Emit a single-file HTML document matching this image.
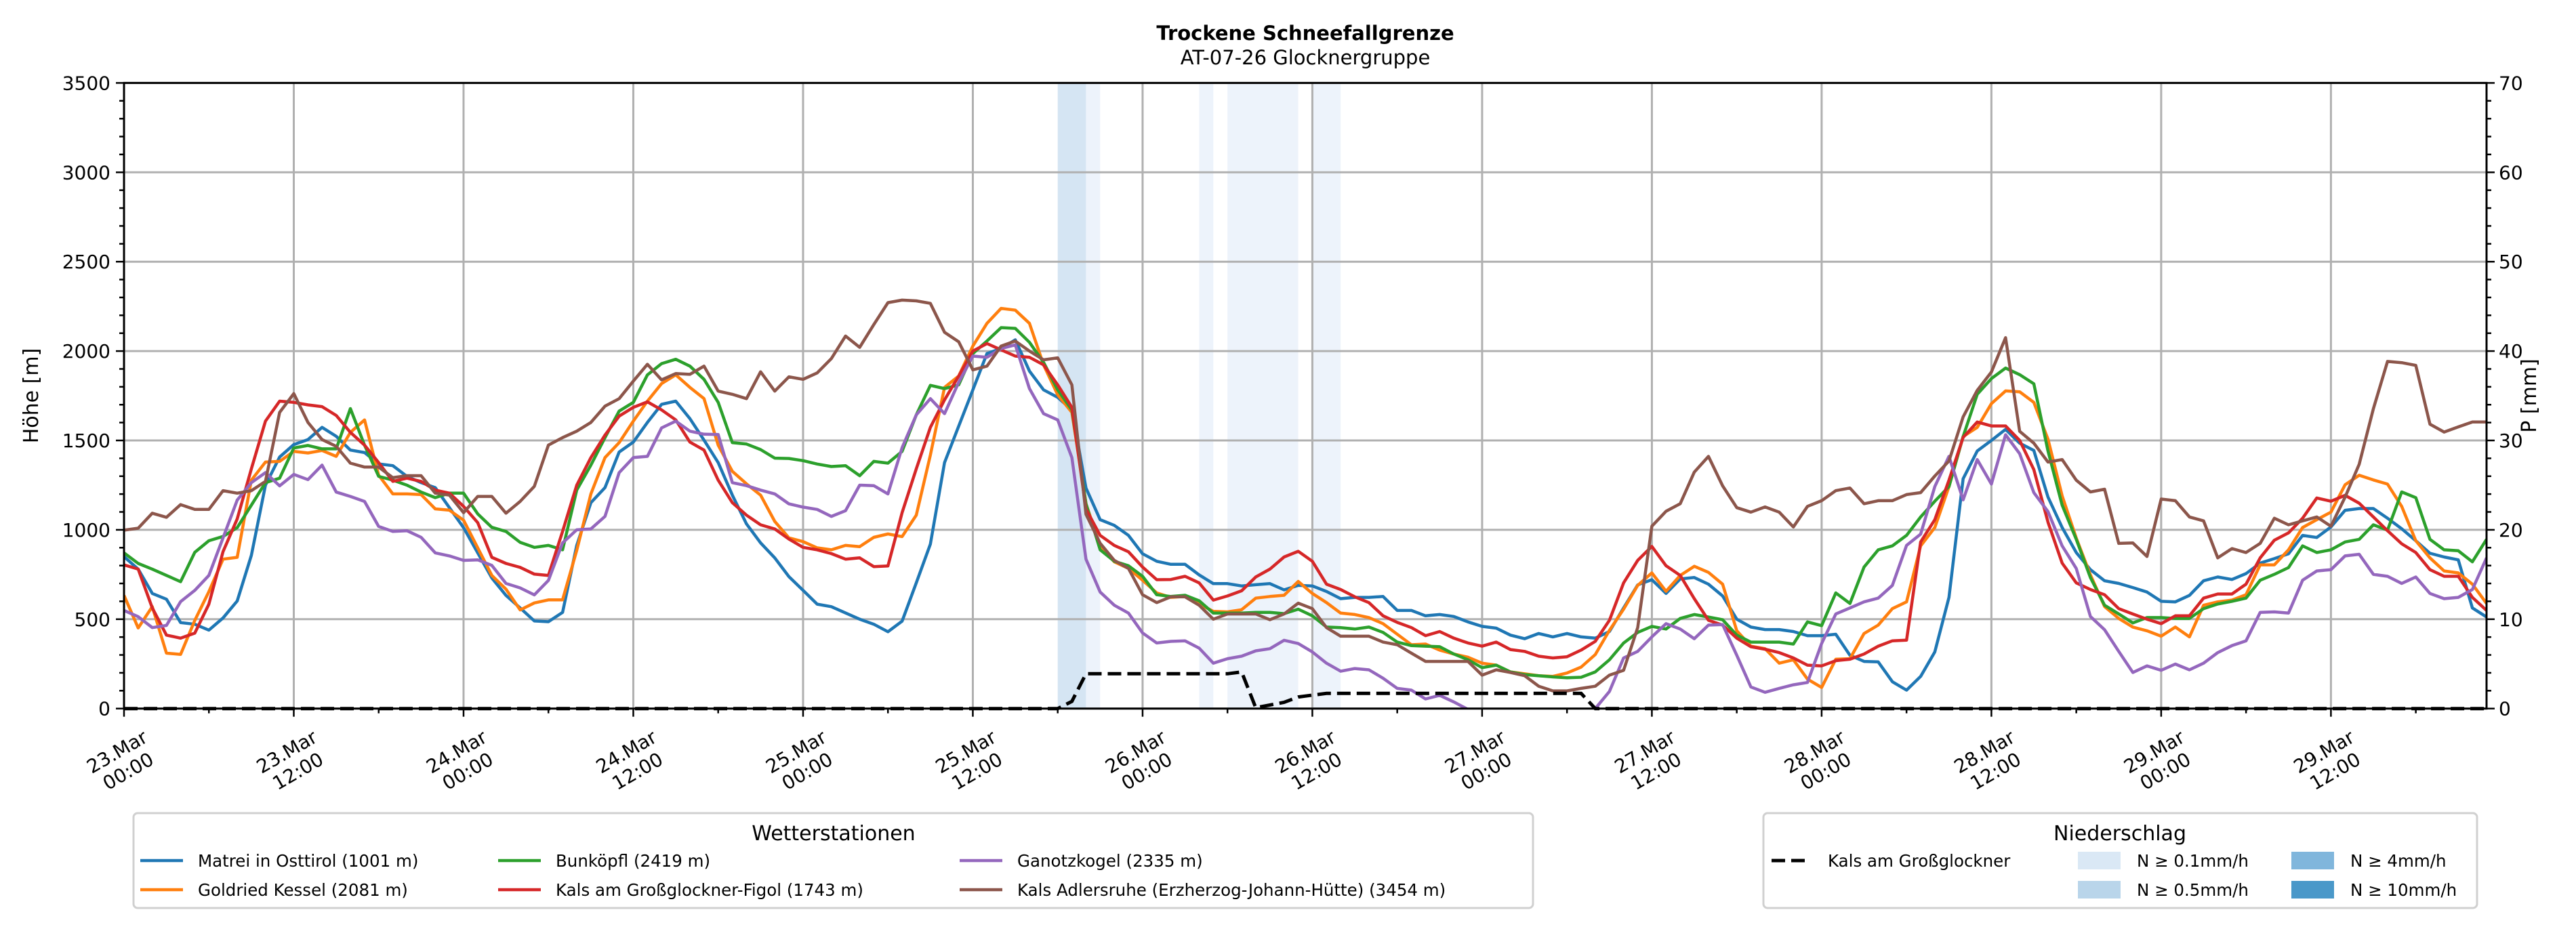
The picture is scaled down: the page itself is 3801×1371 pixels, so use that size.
<!DOCTYPE html>
<html><head><meta charset="utf-8"><style>
html,body{margin:0;padding:0;background:#fff;}
svg{display:block;font-family:"DejaVu Sans","Liberation Sans",sans-serif;}
</style></head>
<body>
<svg id="chart" xmlns="http://www.w3.org/2000/svg" width="3801" height="1371" viewBox="0 0 3801 1371">
<rect x="0" y="0" width="3801" height="1371" fill="#fff"/>
<text x="1926" y="59" text-anchor="middle" font-weight="bold" font-size="29">Trockene Schneefallgrenze</text>
<text x="1926" y="95" text-anchor="middle" font-size="29">AT-07-26 Glocknergruppe</text>
<g id="plot"></g>
</svg>
<script>
// ---- data ----
const startLabels = ["23.Mar","23.Mar","24.Mar","24.Mar","25.Mar","25.Mar","26.Mar","26.Mar","27.Mar","27.Mar","28.Mar","28.Mar","29.Mar","29.Mar"];
const timeLabels = ["00:00","12:00","00:00","12:00","00:00","12:00","00:00","12:00","00:00","12:00","00:00","12:00","00:00","12:00"];
const yTicks = [0,500,1000,1500,2000,2500,3000,3500];
const pTicks = [0,10,20,30,40,50,60,70];
const seriesNames = ["Matrei in Osttirol (1001 m)","Goldried Kessel (2081 m)","Bunköpfl (2419 m)","Kals am Großglockner-Figol (1743 m)","Ganotzkogel (2335 m)","Kals Adlersruhe (Erzherzog-Johann-Hütte) (3454 m)"];
const seriesColors = ["#1f77b4","#ff7f0e","#2ca02c","#d62728","#9467bd","#8c564b"];
const matrei = [850,780,644,612,481,472,439,507,602,857,1250,1407,1477,1505,1573,1523,1446,1432,1369,1359,1299,1264,1236,1124,1012,871,731,633,563,490,486,538,913,1152,
1236,1435,1491,1601,1702,1720,1622,1502,1376,1194,1033,927,843,738,661,584,570,535,500,472,430,489,703,920,1376,1580,1783,1986,2014,2063,1888,1783,1741,1671,
1234,1057,1025,969,866,824,807,807,748,699,699,686,693,699,664,689,686,655,615,622,622,627,549,549,519,526,515,485,460,450,411,391,420,
401,420,401,394,431,563,692,721,644,725,733,696,630,500,456,442,442,431,408,408,416,298,264,261,150,103,180,317,622,1286,1441,1500,1562,1485,
1444,1183,1013,873,777,715,700,677,652,600,597,633,715,736,722,755,814,839,866,969,957,1016,1109,1119,1119,1065,1006,939,869,848,832,563,512];
const goldried = [633,451,570,310,303,493,654,836,846,1278,1379,1383,1439,1430,1444,1411,1545,1615,1306,1201,1201,1197,1117,1110,1054,899,745,668,552,591,608,608,885,1201,
1404,1488,1608,1720,1818,1867,1797,1734,1474,1327,1257,1194,1047,955,934,899,888,913,906,958,977,962,1082,1418,1797,1860,2028,2155,2239,2229,2155,1923,1755,1657,
1146,910,821,784,718,647,622,627,585,544,541,553,618,627,634,711,644,593,534,526,509,475,416,357,361,327,305,287,254,243,205,195,184,
180,199,232,302,438,556,689,759,656,745,796,762,696,435,349,335,254,273,165,118,276,279,420,467,559,597,910,1013,1242,1522,1573,1706,1777,1772,
1713,1507,1190,954,748,571,504,456,435,405,456,401,578,597,607,637,804,804,888,1013,1057,1099,1252,1305,1279,1256,1131,939,843,770,759,696,588];
const bunkoepfl = [871,812,780,745,710,874,939,963,1012,1138,1264,1289,1458,1472,1453,1453,1678,1474,1299,1278,1250,1211,1180,1205,1205,1089,1014,991,930,902,913,888,1222,1362,
1516,1664,1713,1867,1930,1954,1916,1842,1713,1488,1480,1449,1401,1399,1387,1368,1354,1359,1303,1383,1373,1439,1643,1808,1790,1811,1986,2056,2131,2127,2049,1937,1783,1671,
1146,888,824,799,740,637,627,634,603,534,534,534,538,538,531,556,519,456,453,445,456,426,372,352,349,346,305,273,229,243,205,190,184,
177,172,175,205,273,367,426,460,445,504,526,512,497,411,372,372,372,361,485,464,647,588,792,888,910,969,1072,1160,1242,1522,1758,1846,1905,1868,
1817,1441,1138,947,733,578,529,479,509,509,504,504,559,585,600,618,718,751,789,910,873,888,932,947,1028,998,1212,1180,947,888,883,821,947];
const figol = [804,780,563,411,394,422,584,878,1061,1341,1608,1720,1713,1699,1689,1640,1545,1474,1376,1271,1289,1271,1222,1205,1131,1040,846,812,790,752,745,991,1250,1404,
1530,1636,1685,1716,1671,1615,1491,1446,1278,1152,1082,1028,1005,948,902,888,867,836,843,794,798,1096,1341,1573,1727,1860,2000,2042,2007,1972,1965,1923,1811,1685,
1116,969,913,877,792,721,722,740,703,607,630,659,736,780,848,880,824,696,666,625,593,519,482,453,408,431,394,367,349,372,330,320,293,
283,290,327,376,494,703,829,907,799,745,615,494,467,394,346,332,313,283,243,239,268,276,305,349,379,383,932,1057,1278,1517,1603,1581,1581,1500,
1337,1043,814,703,666,637,559,529,500,475,519,519,618,641,641,696,843,942,983,1065,1178,1160,1193,1149,1072,995,922,873,777,740,740,622,549];
const ganotz = [549,514,453,465,598,661,745,955,1166,1264,1320,1246,1310,1281,1362,1211,1187,1159,1019,991,995,958,871,854,829,832,801,700,675,636,717,927,1000,1005,
1075,1320,1404,1411,1570,1608,1552,1535,1533,1264,1247,1222,1201,1145,1127,1114,1075,1107,1250,1247,1201,1460,1643,1734,1650,1825,1972,1965,2014,2035,1790,1650,1615,1404,
836,652,578,534,423,367,376,379,338,254,279,293,323,335,382,364,317,254,209,224,217,170,113,103,54,74,37,-5,-20,-10,-15,-5,-10,
-5,-15,-20,0,96,283,320,401,475,445,391,467,470,298,121,91,113,133,146,364,529,563,597,618,689,913,976,1242,1411,1168,1393,1256,1532,1426,
1208,1102,910,784,515,441,320,202,239,214,249,217,254,313,352,379,538,541,534,718,770,777,854,863,751,740,700,736,644,615,622,666,843];
const adlersruhe = [998,1009,1093,1070,1141,1114,1114,1219,1205,1219,1271,1657,1762,1601,1505,1467,1373,1351,1351,1292,1303,1303,1205,1194,1096,1187,1187,1093,1159,1243,1474,1516,1552,1601,
1692,1734,1832,1926,1839,1874,1870,1916,1776,1758,1734,1884,1776,1856,1842,1878,1958,2084,2021,2148,2271,2285,2281,2267,2105,2052,1895,1916,2028,2056,2000,1951,1962,1811,
1087,925,829,784,637,593,625,625,578,500,529,529,529,497,529,590,559,453,405,405,405,372,357,310,264,264,264,264,187,217,202,184,125,
99,99,113,125,187,214,453,1020,1104,1146,1323,1411,1246,1124,1099,1128,1099,1016,1131,1163,1219,1234,1146,1163,1163,1197,1208,1301,1385,1632,1780,1883,2075,1551,
1485,1379,1393,1278,1212,1227,924,927,851,1172,1163,1072,1050,843,895,873,924,1065,1028,1050,1072,1020,1183,1367,1677,1942,1935,1920,1591,1547,1576,1603,1603];
// precipitation at Kals am Großglockner (mm), hourly
const precipHours = [66,67,68,69,70,71,72,73,74,75,76,77,78,79,80,81,82,83,84,85,86,87,88,89,90,91,92,93,94,95,96,97,98,99,100,101,102,103,104];
const precipValues = [0,0.8,3.9,3.9,3.9,3.9,3.9,3.9,3.9,3.9,3.9,3.9,3.9,4.1,0.1,0.4,0.7,1.3,1.5,1.7,1.7,1.7,1.7,1.7,1.7,1.7,1.7,1.7,1.7,1.7,1.7,1.7,1.7,1.7,1.7,1.7,1.7,1.7,0];
// precipitation intensity bands: start hour, end hour, class
const bandStart = [66,68,76,78,84];
const bandEnd = [68,69,77,83,86];
const bandClass = [1,0,0,0,0];

// ---- geometry ----
const X0=183, X1=3669, Y0=1045.7, Y1=122.4, NH=167;
const sx = h => X0 + (X1-X0)*h/NH;
const sy = v => Y0 - (Y0-Y1)*v/3500;
const sp = p => Y0 - (Y0-Y1)*p/70;
const NS="http://www.w3.org/2000/svg";
const svg=document.getElementById('chart');
const plot=document.getElementById('plot');
function mk(tag, attrs, parent){const e=document.createElementNS(NS,tag);for(const k in attrs)e.setAttribute(k,attrs[k]);(parent||plot).appendChild(e);return e;}

// clip
const defs=mk('defs',{},svg);
const cp=mk('clipPath',{id:'clip'},defs);
mk('rect',{x:X0,y:Y1,width:X1-X0,height:Y0-Y1},cp);

// bands
const bandColors=["#edf3fb","#d5e5f3"];
for(let i=0;i<bandStart.length;i++){
  const r=mk('rect',{x:sx(bandStart[i]),y:Y1,width:sx(bandEnd[i])-sx(bandStart[i]),height:Y0-Y1,fill:bandColors[bandClass[i]]});
  
  
}
// grid
for(const v of yTicks){
  const l=mk('line',{x1:X0,x2:X1,y1:sy(v),y2:sy(v),stroke:'#b0b0b0','stroke-width':3});
  
  
}
for(let i=0;i<startLabels.length;i++){
  const x=sx(i*12);
  const l=mk('line',{x1:x,x2:x,y1:Y1,y2:Y0,stroke:'#b0b0b0','stroke-width':3});
  
  
}
// series
const allSeries=[matrei,goldried,bunkoepfl,figol,ganotz,adlersruhe];
const g=mk('g',{'clip-path':'url(#clip)'});


const seriesKeys=['matrei','goldried-kessel','bunkoepfl','kals-figol','ganotzkogel','kals-adlersruhe'];
for(let s=0;s<allSeries.length;s++){
  const d=allSeries[s].map((v,i)=>(i?'L':'M')+sx(i).toFixed(1)+','+sy(v).toFixed(1)).join('');
  const p=mk('path',{d:d,fill:'none',stroke:seriesColors[s],'stroke-width':4.5,'stroke-linejoin':'round'},g);
  
  
}
// precipitation dashed line (full range, zero outside given hours)
const pv=[];for(let h=0;h<=NH;h++){const k=precipHours.indexOf(h);pv.push(k>=0?precipValues[k]:0);}
const pd=pv.map((v,i)=>(i?'L':'M')+sx(i).toFixed(1)+','+sp(v).toFixed(1)).join('');
const pl=mk('path',{d:pd,fill:'none',stroke:'#000','stroke-width':5,'stroke-dasharray':'20,9'});



// spines
const fr=mk('rect',{x:X0,y:Y1,width:X1-X0,height:Y0-Y1,fill:'none',stroke:'#000','stroke-width':3});



// y ticks left
for(let v=0;v<=3500;v+=100){
  const major=v%500===0;
  const t=mk('line',{x1:X0,x2:X0-(major?12:7),y1:sy(v),y2:sy(v),stroke:'#000','stroke-width':2.5});
  
  
}
for(const v of yTicks){
  const t=mk('text',{x:X0-20,y:sy(v)+10,'text-anchor':'end','font-size':28});
  t.textContent=v;
  
  
}
// right ticks
for(let p=0;p<=70;p+=2){
  const major=p%10===0;
  const t=mk('line',{x1:X1,x2:X1+(major?12:7),y1:sp(p),y2:sp(p),stroke:'#000','stroke-width':2.5});
  
  
}
for(const p of pTicks){
  const t=mk('text',{x:X1+18,y:sp(p)+10,'text-anchor':'start','font-size':28});
  t.textContent=p;
  
  
}
// x ticks
for(let h=0;h<=NH;h+=6){
  const major=h%12===0;
  const t=mk('line',{x1:sx(h),x2:sx(h),y1:Y0,y2:Y0+(major?12:7),stroke:'#000','stroke-width':2.5});
  
  
}
for(let i=0;i<startLabels.length;i++){
  const cx=sx(i*12)-2;
  const tg=mk('g',{transform:'translate('+cx+',1124) rotate(-30)'});
  
  
  const t1=mk('text',{x:0,y:-7,'text-anchor':'middle','font-size':28},tg);
  t1.textContent=startLabels[i];
  
  
  const t2=mk('text',{x:0,y:26,'text-anchor':'middle','font-size':28},tg);
  t2.textContent=timeLabels[i];
  
  
}
// axis titles
const yl=mk('text',{x:0,y:0,transform:'translate(56,584) rotate(-90)','text-anchor':'middle','font-size':30});
yl.textContent='Höhe [m]';


const pl2=mk('text',{x:0,y:0,transform:'translate(3742,584) rotate(-90)','text-anchor':'middle','font-size':30});
pl2.textContent='P [mm]';



// legend 1
const lg=mk('g',{});


const lb=mk('rect',{x:197,y:1200,width:2065,height:140,rx:6,fill:'#fff',stroke:'#d0d0d0','stroke-width':3},lg);


const lt=mk('text',{x:1230,y:1240,'text-anchor':'middle','font-size':30},lg);
lt.textContent='Wetterstationen';


const colX=[207,735,1416], rowY=[1270,1313];
for(let s=0;s<6;s++){
  const c=Math.floor(s/2), r=s%2;
  const e=mk('g',{},lg);
  
  
  mk('line',{x1:colX[c],x2:colX[c]+63,y1:rowY[r],y2:rowY[r],stroke:seriesColors[s],'stroke-width':4.5},e);
  const t=mk('text',{x:colX[c]+85,y:rowY[r]+9,'font-size':24.5},e);
  t.textContent=seriesNames[s];
}
// legend 2
const lg2=mk('g',{});


const lb2=mk('rect',{x:2602,y:1200,width:1053,height:140,rx:6,fill:'#fff',stroke:'#d0d0d0','stroke-width':3},lg2);


const lt2=mk('text',{x:3128,y:1240,'text-anchor':'middle','font-size':30},lg2);
lt2.textContent='Niederschlag';


const de=mk('g',{},lg2);


mk('line',{x1:2614,x2:2672,y1:1270,y2:1270,stroke:'#000','stroke-width':5,'stroke-dasharray':'20,9'},de);
const dt=mk('text',{x:2697,y:1279,'font-size':24.5},de);
dt.textContent='Kals am Großglockner';
const patchColors=['#dae8f5','#b9d5ea','#80b6dc','#4a98c9'];
const patchLabels=['N ≥ 0.1mm/h','N ≥ 0.5mm/h','N ≥ 4mm/h','N ≥ 10mm/h'];
const pX=[3066,3066,3381,3381], pY=[1270,1313,1270,1313];
for(let i=0;i<4;i++){
  const e=mk('g',{},lg2);
  
  
  mk('rect',{x:pX[i],y:pY[i]-13,width:63,height:26,fill:patchColors[i]},e);
  const t=mk('text',{x:pX[i]+87,y:pY[i]+9,'font-size':24.5},e);
  t.textContent=patchLabels[i];
}
</script>
</body></html>
